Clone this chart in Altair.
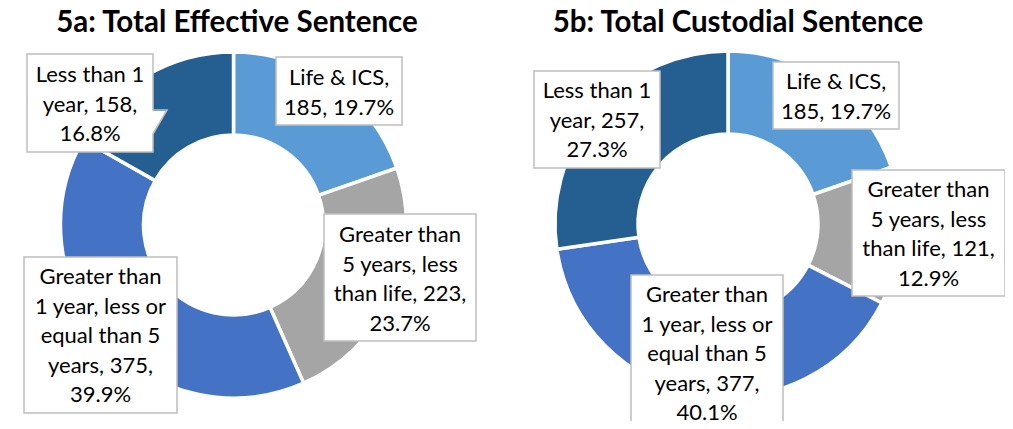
import altair as alt
import pandas as pd

# ---------------- data ----------------
categories = [
    "Life & ICS",
    "Greater than 5 years, less than life",
    "Greater than 1 year, less or equal than 5 years",
    "Less than 1 year",
]
effective_counts = [185, 223, 375, 158]
effective_pcts = ["19.7%", "23.7%", "39.9%", "16.8%"]
custodial_counts = [185, 121, 377, 257]
custodial_pcts = ["19.7%", "12.9%", "40.1%", "27.3%"]
titles = ["5a: Total Effective Sentence", "5b: Total Custodial Sentence"]

# ---------------- styles / layout ----------------
colors = ["#5B9BD5", "#A5A5A5", "#4472C4", "#255E91"]
FONT = "Lato"
OX, OY = 8, 8          # page margin
W, H = 997, 413
R_OUT, R_IN = 173, 90
LINE_H = 29.5

# words per wrapped line of each label
breaks = [[3, 2], [2, 3, 3, 1], [2, 4, 3, 2, 1], [3, 2, 1]]

panels = [
    dict(counts=effective_counts, pcts=effective_pcts, title=titles[0],
         center=(233.5, 225), title_pos=(237, 31.5),
         boxes=[(276, 402, 57, 125), (324, 476, 214, 341),
                (24, 177, 257, 413), (27, 153, 54, 152)],
         text_y=[78, 235, 277, 75]),
    dict(counts=custodial_counts, pcts=custodial_pcts, title=titles[1],
         center=(728, 224), title_pos=(738, 31.5),
         boxes=[(773, 899, 62, 129), (852, 1005, 170, 296),
                (631, 783, 275, 434), (534, 660, 71, 168)],
         text_y=[82, 190, 295, 91]),
]


def wrap(label, counts):
    words = label.split(" ")
    out, i = [], 0
    for n in counts:
        out.append(" ".join(words[i:i + n]))
        i += n
    return "\n".join(out)


layers = []
for p in panels:
    df = pd.DataFrame({
        "category": categories,
        "count": p["counts"],
        "pct": p["pcts"],
        "order": list(range(len(categories))),
    })
    arc = alt.Chart(df).mark_arc(
        radius=R_OUT, radius2=R_IN, stroke="white", strokeWidth=3.5
    ).encode(
        theta=alt.Theta("count:Q", stack=True),
        order=alt.Order("order:Q"),
        color=alt.Color("category:N",
                        scale=alt.Scale(domain=categories, range=colors),
                        legend=None),
        x=alt.value(p["center"][0] - OX),
        y=alt.value(p["center"][1] - OY),
    )
    layers.append(arc)

    labels = [wrap(f"{c}, {n}, {q}", b)
              for c, n, q, b in zip(categories, p["counts"], p["pcts"], breaks)]
    bdf = pd.DataFrame({
        "x0": [b[0] - OX for b in p["boxes"]],
        "x1": [b[1] - OX for b in p["boxes"]],
        "y0": [b[2] - OY for b in p["boxes"]],
        "y1": [b[3] - OY for b in p["boxes"]],
        "tx": [(b[0] + b[1]) / 2 - OX for b in p["boxes"]],
        "ty": [t - OY for t in p["text_y"]],
        "label": labels,
    })
    box = alt.Chart(bdf).mark_rect(
        fill="white", stroke="#BFBFBF", strokeWidth=1.5
    ).encode(
        x=alt.X("x0:Q", scale=None), x2="x1:Q",
        y=alt.Y("y0:Q", scale=None), y2="y1:Q",
    )
    txt = alt.Chart(bdf).mark_text(
        font=FONT, fontSize=22, color="#000000", lineBreak="\n",
        lineHeight=LINE_H, align="center", baseline="middle"
    ).encode(
        x=alt.X("tx:Q", scale=None), y=alt.Y("ty:Q", scale=None),
        text="label:N",
    )
    layers += [box, txt]

    tdf = pd.DataFrame({"t": [p["title"]], "x": [p["title_pos"][0] - OX],
                        "y": [p["title_pos"][1] - OY]})
    title = alt.Chart(tdf).mark_text(
        font=FONT, fontSize=29.5, fontWeight="bold", color="#000000",
        align="center", baseline="alphabetic"
    ).encode(x=alt.X("x:Q", scale=None), y=alt.Y("y:Q", scale=None), text="t:N")
    layers.append(title)

# callout pointer on the "Less than 1 year" label of 5a
ptr = pd.DataFrame({"x": [153 - OX, 167 - OX, 153 - OX],
                    "y": [110 - OY, 110 - OY, 134 - OY],
                    "o": [0, 1, 2]})
ptr_fill = alt.Chart(pd.DataFrame({"x": [152 - OX, 167 - OX],
                                   "y": [111 - OY, 111 - OY],
                                   "y2": [134 - OY, 111 - OY]})).mark_area(
    color="white", opacity=1
).encode(x=alt.X("x:Q", scale=None), y=alt.Y("y:Q", scale=None), y2="y2:Q")
ptr_line = alt.Chart(ptr).mark_line(color="#BFBFBF", strokeWidth=1.5).encode(
    x=alt.X("x:Q", scale=None), y=alt.Y("y:Q", scale=None), order="o:Q")
layers += [ptr_fill, ptr_line]

chart = alt.layer(*layers).resolve_scale(theta="independent").properties(
    width=W, height=H, padding=0, autosize="none"
).configure_view(stroke=None)

chart.save("out.html", embed_options={"renderer": "svg", "actions": False})
